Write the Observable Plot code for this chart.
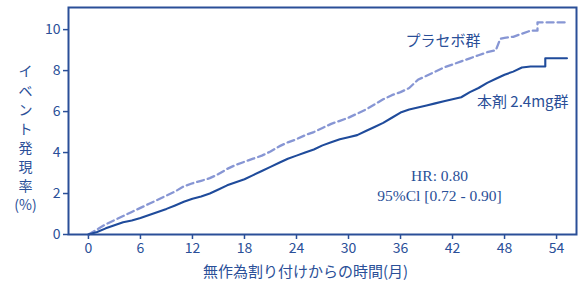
<!DOCTYPE html>
<html><head><meta charset="utf-8">
<script src="https://cdn.jsdelivr.net/npm/d3@7"></script>
<script src="https://cdn.jsdelivr.net/npm/@observablehq/plot@0.6"></script>
<style>
html,body{margin:0;padding:0;background:#fff;}
</style>
</head><body><div id="chart"></div>
<script>
const drugMonths = [0,1,2,3,4,5,6,7,8,9,10,11,12,13,14,15,16,17,18,19,20,21,22,23,24,25,26,27,28,29,30,31,32,33,34,35,36,37,38,39,40,41,42,43,44,45,46,47,48,49,50,51,52.7,52.7,55.2];
const drugRates  = [0,0.12,0.3,0.45,0.6,0.68,0.8,0.95,1.1,1.25,1.42,1.6,1.75,1.85,2.0,2.2,2.4,2.55,2.7,2.9,3.1,3.3,3.5,3.7,3.85,4.0,4.15,4.35,4.5,4.65,4.75,4.85,5.05,5.25,5.45,5.7,5.95,6.1,6.2,6.3,6.4,6.5,6.6,6.7,6.95,7.15,7.4,7.6,7.8,7.95,8.15,8.2,8.2,8.6,8.6];
const placeboMonths = [0,1,2,3,4,5,6,7,8,9,10,11,12,13,14,15,16,17,18,19,20,21,22,23,24,25,26,27,28,29,30,31,32,33,34,35,36,37,38,39,40,41,42,43,44,45,46,47,47.5,48,49,50,51,51.8,51.8,55.2];
const placeboRates  = [0,0.25,0.5,0.7,0.9,1.1,1.3,1.5,1.7,1.9,2.1,2.35,2.5,2.62,2.75,2.95,3.2,3.4,3.55,3.7,3.85,4.05,4.3,4.5,4.65,4.85,5.0,5.2,5.4,5.55,5.7,5.9,6.1,6.35,6.6,6.8,6.95,7.15,7.55,7.75,7.95,8.15,8.3,8.45,8.6,8.75,8.9,9.0,9.55,9.6,9.65,9.8,9.95,9.95,10.35,10.35];
const xTicks = [0,6,12,18,24,30,36,42,48,54];
const yTicks = [0,2,4,6,8,10];
const seriesNames = ["本剤 2.4mg群","プラセボ群"];
const xLabel = "無作為割り付けからの時間(月)";
const yLabel = "イ\nベ\nン\nト\n発\n現\n率\n(%)";
const hrLines = ["HR: 0.80","95%Cl [0.72 - 0.90]"];

const drug = drugMonths.map((m,i)=>({m, r: drugRates[i]}));
const placebo = placeboMonths.map((m,i)=>({m, r: placeboRates[i]}));

const navy = "#2a4f98";
const solidC = "#1f4b9b";
const dashC = "#8796d4";
const jp = "'Noto Sans CJK JP', 'Noto Sans', sans-serif";

const chart = Plot.plot({
  width: 579, height: 289,
  marginLeft: 68, marginRight: 3, marginTop: 7, marginBottom: 55,
  style: {fontFamily: jp, color: navy, background: "#fff"},
  x: {domain: [-2.3, 56.3], ticks: xTicks, label: null},
  y: {domain: [0, 11.08], ticks: yTicks, label: null},
  marks: [
    Plot.axisX({ticks: xTicks, tickSize: 5, tickPadding: 4, fontSize: 14, stroke: navy, fill: navy, strokeWidth: 1.5, label: null}),
    Plot.axisY({ticks: yTicks, tickSize: 5, tickPadding: 3, fontSize: 14, stroke: navy, fill: navy, strokeWidth: 1.5, label: null}),
    Plot.line(placebo, {x: "m", y: "r", curve: "linear", stroke: dashC, strokeWidth: 2.3, strokeDasharray: "7,4"}),
    Plot.line(drug, {x: "m", y: "r", curve: "linear", stroke: solidC, strokeWidth: 2.1}),
    Plot.frame({stroke: navy, strokeWidth: 2}),
    Plot.text([seriesNames[1]], {x: 40.9, y: 9.46, text: d => d, fontSize: 15, fill: navy, textAnchor: "middle"}),
    Plot.text([seriesNames[0]], {x: 50.1, y: 6.47, text: d => d, fontSize: 15, fill: navy, textAnchor: "middle"}),
    Plot.text([hrLines.join("\n")], {x: 40.5, y: 2.45, text: d => d, fontSize: 15.5, fill: navy, textAnchor: "middle", lineHeight: 1.3, fontFamily: "'Liberation Serif', serif"}),
    Plot.text([yLabel], {frameAnchor: "left", dx: -43, dy: 16, text: d => d, fontSize: 14, fill: navy, textAnchor: "middle", lineHeight: 1.36}),
    Plot.text([xLabel], {frameAnchor: "bottom", dx: -17, dy: 42, text: d => d, fontSize: 15, fill: navy, textAnchor: "middle"})
  ]
});
document.getElementById("chart").appendChild(chart);
</script>
</body></html>
